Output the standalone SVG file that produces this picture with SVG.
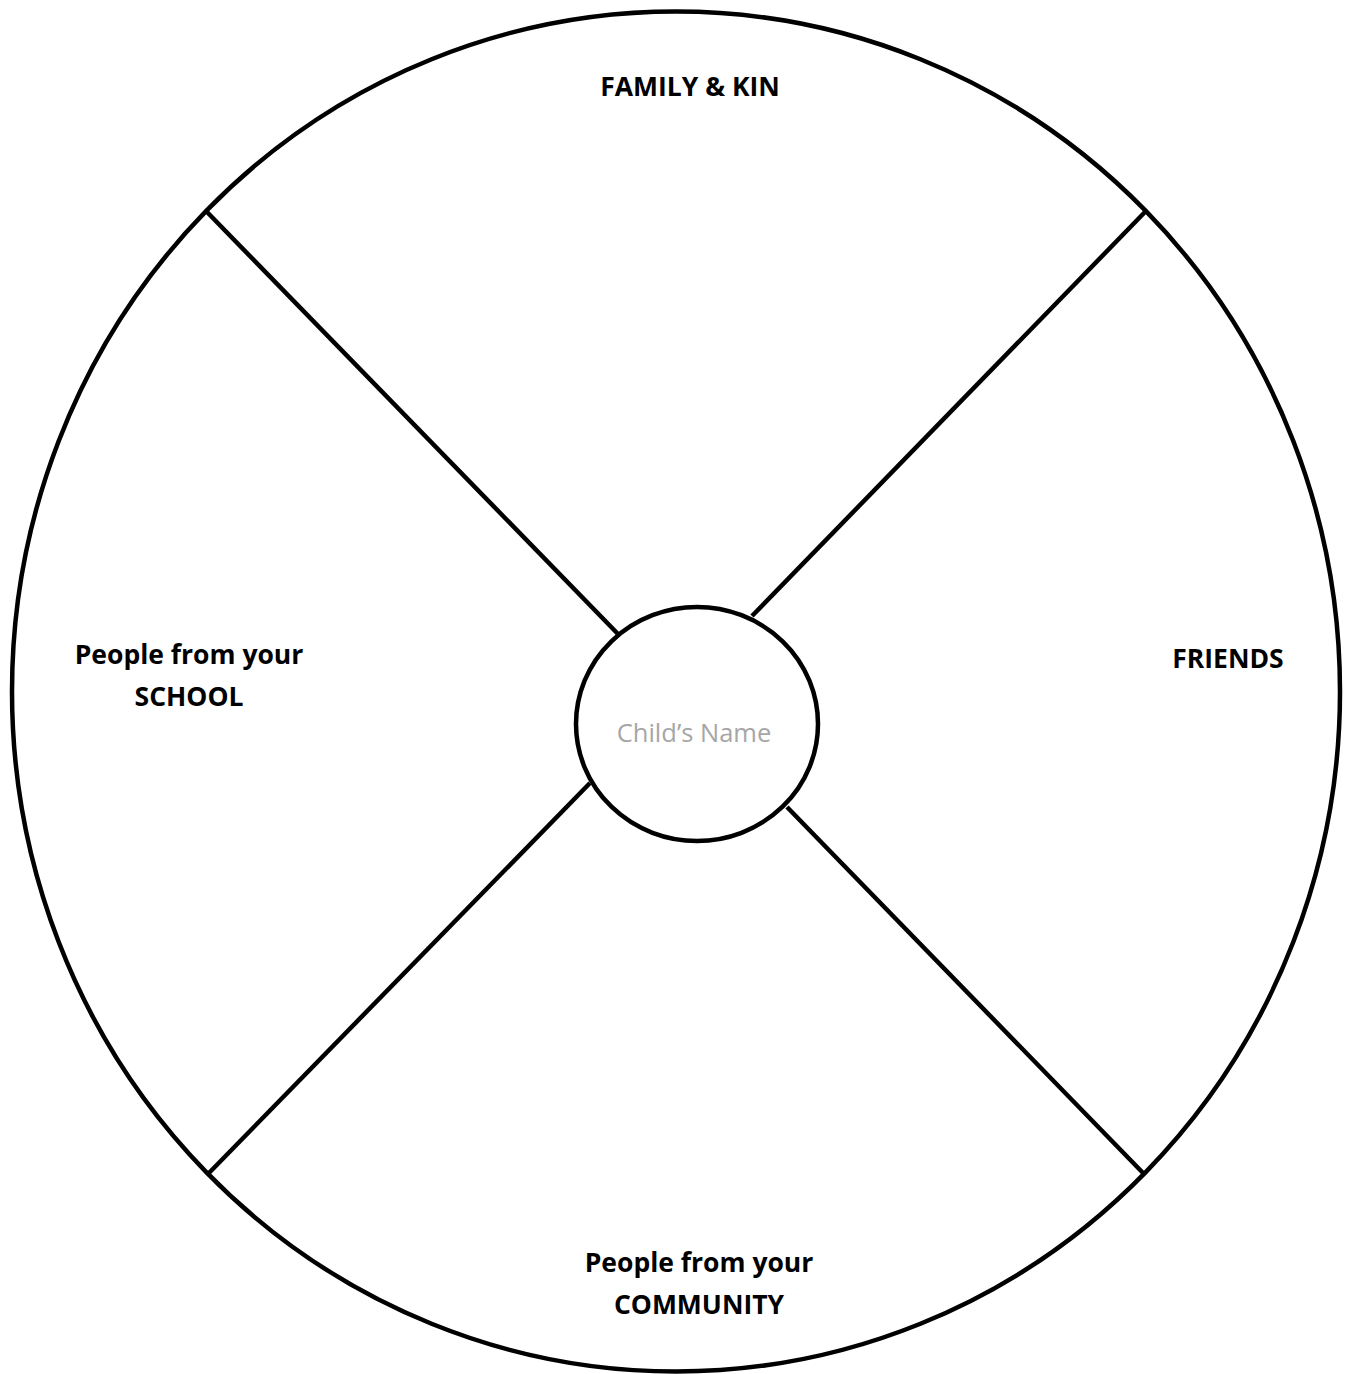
<svg xmlns="http://www.w3.org/2000/svg" width="1345" height="1374" viewBox="0 0 1345 1374">
<style>
.ln{stroke:#000;stroke-width:4.5;fill:none}
.lbl{font-family:"Open Sans","Noto Sans","Liberation Sans",sans-serif;font-weight:bold;font-size:26.5px;fill:#000;text-anchor:middle}
.nm{font-family:"Open Sans","Noto Sans","Liberation Sans",sans-serif;font-size:25.5px;fill:#A6A6A6;text-anchor:middle}
</style>
<rect width="1345" height="1374" fill="#fff"/>
<g id="outer">
<ellipse class="ln" cx="676" cy="691.5" rx="664" ry="680"/>
</g>
<g id="connectors">
<line class="ln" x1="207" y1="212" x2="618" y2="634"/>
<line class="ln" x1="1145" y1="212" x2="752" y2="616"/>
<line class="ln" x1="207" y1="1175" x2="590" y2="783"/>
<line class="ln" x1="1145" y1="1175" x2="787" y2="807"/>
</g>
<g id="center">
<ellipse class="ln" cx="697" cy="724" rx="121" ry="117" fill="#fff"/>
<text class="nm" x="694" y="742">Child’s Name</text>
</g>
<g id="family"><text class="lbl" x="690" y="96">FAMILY &amp; KIN</text></g>
<g id="friends"><text class="lbl" x="1228" y="668">FRIENDS</text></g>
<g id="school"><text class="lbl" x="189" y="664">People from your</text><text class="lbl" x="189" y="706">SCHOOL</text></g>
<g id="community"><text class="lbl" x="699" y="1272">People from your</text><text class="lbl" x="699" y="1314">COMMUNITY</text></g>
</svg>
